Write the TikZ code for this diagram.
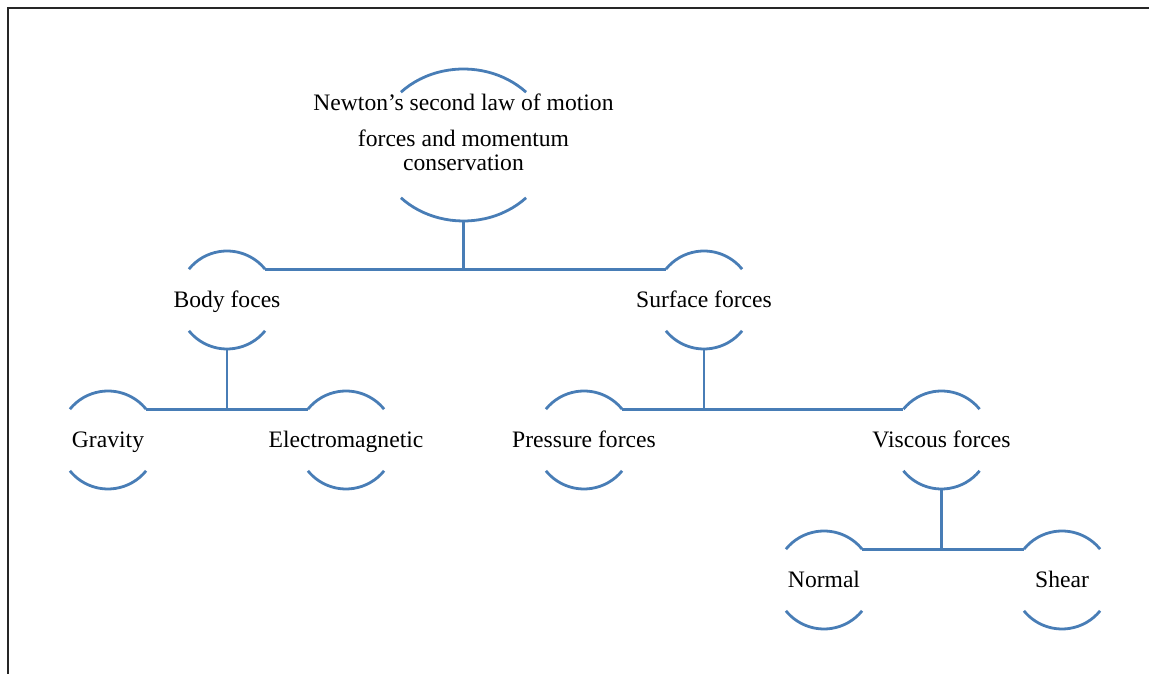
\documentclass[tikz,border=0pt]{standalone}
\usepackage{fontspec}
\setmainfont{Liberation Serif}
\usetikzlibrary{shapes.geometric}
\definecolor{acc}{RGB}{72,125,182}
\begin{document}
\begin{tikzpicture}[x=1pt,y=1pt,
  holder/.style={circle,minimum size=98pt,inner sep=0pt,outer sep=0pt},
  arcline/.style={draw=acc,line width=2.8pt},
  link/.style={draw=acc,line width=2.8pt},
  lbl/.style={anchor=base,inner sep=0pt,font=\fontsize{23.6}{25}\selectfont}]
\useasboundingbox (0,0) rectangle (1149,674);
\clip (0,0) rectangle (1149,674);
% frame
\draw[line width=1.8pt,black!85] (8,-20) -- (8,666) -- (1180,666);

% placeholders
\node[ellipse,minimum width=174pt,minimum height=152pt,inner sep=0pt,outer sep=0pt] (newton) at (463.5,529) {};
\node[holder] (body) at (227,374) {};
\node[holder] (surf) at (704,374) {};
\node[holder] (grav) at (108,234) {};
\node[holder] (elec) at (346,234) {};
\node[holder] (pres) at (584,234) {};
\node[holder] (visc) at (941.5,234) {};
\node[holder] (norm) at (824,94) {};
\node[holder] (shear) at (1062,94) {};

% arcs
\draw[arcline] ([shift={(44:87 and 76)}]newton.center) arc[start angle=44,end angle=136,x radius=87,y radius=76];
\draw[arcline] ([shift={(224:87 and 76)}]newton.center) arc[start angle=224,end angle=316,x radius=87,y radius=76];
\foreach \n in {body,surf,grav,elec,pres,visc,norm,shear}{
  \draw[arcline] (\n.39) arc[start angle=39,end angle=141,radius=49];
  \draw[arcline] (\n.219) arc[start angle=219,end angle=321,radius=49];
}

% texts
\node[lbl] (t1) at ([yshift=34]newton.center) {Newton’s second law of motion};
\node[lbl] (t2) at ([yshift=-2]newton.center) {forces and momentum};
\node[lbl] (t3) at ([yshift=-26]newton.center) {conservation};
\node[lbl] at ([yshift=-8]body.center) {Body foces};
\node[lbl] at ([yshift=-8]surf.center) {Surface forces};
\node[lbl] at ([yshift=-8]grav.center) {Gravity};
\node[lbl] at ([yshift=-8]elec.center) {Electromagnetic};
\node[lbl] at ([yshift=-8]pres.center) {Pressure forces};
\node[lbl] at ([yshift=-8]visc.center) {Viscous forces};
\node[lbl] at ([yshift=-8]norm.center) {Normal};
\node[lbl] at ([yshift=-8]shear.center) {Shear};

% connectors
\draw[link] (newton.south) -- (newton.south |- body.39);
\draw[link] (body.39) -- (surf.141);
\draw[link] (body.south) -- (body.south |- grav.39);
\draw[link] (grav.39) -- (elec.141);
\draw[link] (surf.south) -- (surf.south |- pres.39);
\draw[link] (pres.39) -- (visc.141);
\draw[link] (visc.south) -- (visc.south |- norm.39);
\draw[link] (norm.39) -- (shear.141);
\end{tikzpicture}
\end{document}
